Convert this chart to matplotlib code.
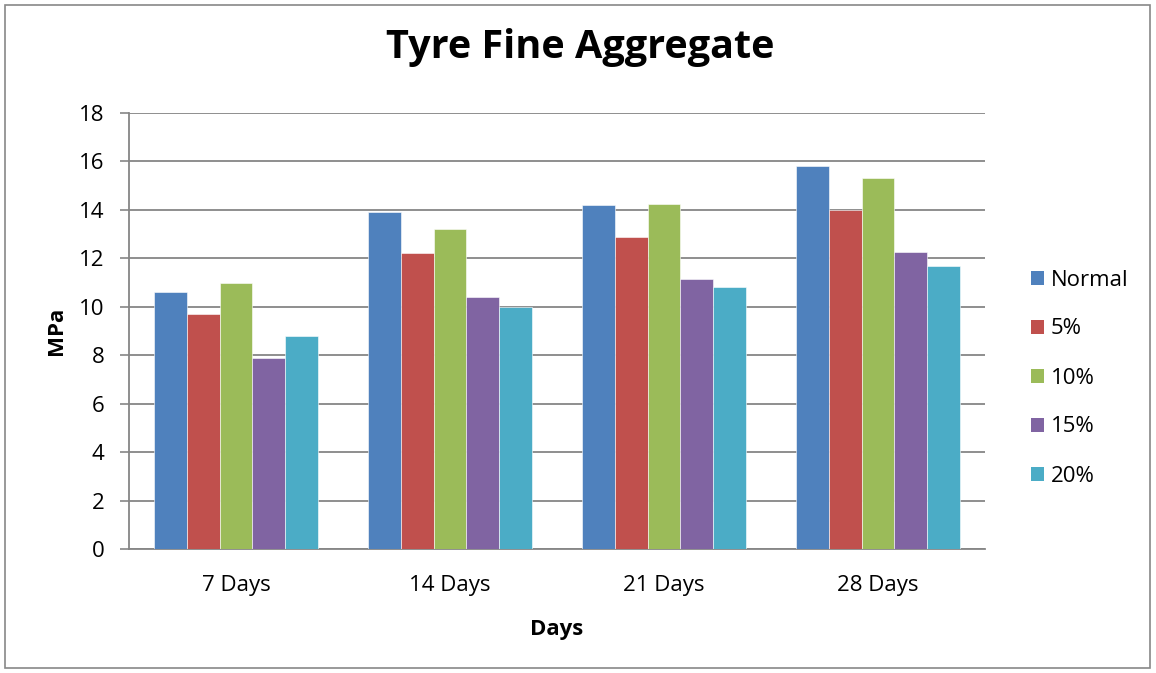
import matplotlib
matplotlib.use("Agg")
import matplotlib.pyplot as plt
from matplotlib.patches import Rectangle, Patch
import numpy as np

categories = ["7 Days", "14 Days", "21 Days", "28 Days"]
series_names = ["Normal", "5%", "10%", "15%", "20%"]
normal = [10.6, 13.9, 14.2, 15.8]
pct5 = [9.7, 12.2, 12.9, 14.0]
pct10 = [11.0, 13.2, 14.25, 15.3]
pct15 = [7.9, 10.4, 11.15, 12.25]
pct20 = [8.8, 10.0, 10.8, 11.7]
series_values = [normal, pct5, pct10, pct15, pct20]
colors = ["#4F81BD", "#C0504D", "#9BBB59", "#8064A2", "#4BACC6"]
y_ticks = [0, 2, 4, 6, 8, 10, 12, 14, 16, 18]

plt.rcParams['font.family'] = ['Open Sans', 'DejaVu Sans']

W, H = 1156, 673
fig = plt.figure(figsize=(W / 100, H / 100), dpi=100)

# chart frame
fig.patches.append(Rectangle((5 / W, 5 / H), (1150 - 5) / W, (668 - 5) / H,
                             transform=fig.transFigure, fill=False,
                             edgecolor="#888888", linewidth=1.2))

ax = fig.add_axes([129 / W, 1 - 549 / H, (985 - 129) / W, (549 - 113) / H])

n = len(series_names)
bar_w = 1 / 6.5
x = np.arange(len(categories))
for i, (name, vals, c) in enumerate(zip(series_names, series_values, colors)):
    offs = (i - (n - 1) / 2) * bar_w
    ax.bar(x + offs, vals, width=bar_w, color=c, label=name,
           edgecolor="white", linewidth=0.4, zorder=3)

ax.set_xlim(-0.5, len(categories) - 0.5)
ax.set_ylim(0, 18)
ax.set_yticks(y_ticks)
ax.set_yticklabels([str(t) for t in y_ticks], fontsize=16)
ax.set_xticks(x)
ax.set_xticklabels(categories, fontsize=16)
ax.tick_params(axis="x", which="major", length=0, pad=18.5)
ax.tick_params(axis="y", length=6.5, color="#868686", width=1.2, pad=11)

ax.grid(axis="y", color="#868686", linewidth=1.3, zorder=0)
for side in ["top", "right"]:
    ax.spines[side].set_visible(False)
for side in ["left", "bottom"]:
    ax.spines[side].set_color("#868686")
    ax.spines[side].set_linewidth(1.3)

ax.set_ylabel("MPa", fontsize=16, fontweight="bold", labelpad=9)
ax.set_xlabel("Days", fontsize=16, fontweight="bold", labelpad=16.5)

fig.text(580 / W, 1 - 58 / H, "Tyre Fine Aggregate", fontsize=28.5,
         fontweight="bold", ha="center", va="baseline")

handles = [Patch(facecolor=c, edgecolor="none") for c in colors]
fig.legend(handles, series_names, loc="center left",
           bbox_to_anchor=(1011 / W, 1 - 378 / H), frameon=False,
           fontsize=16, handlelength=0.6, handleheight=0.6,
           handletextpad=0.3, labelspacing=1.26)

fig.savefig("out.png", dpi=100)
